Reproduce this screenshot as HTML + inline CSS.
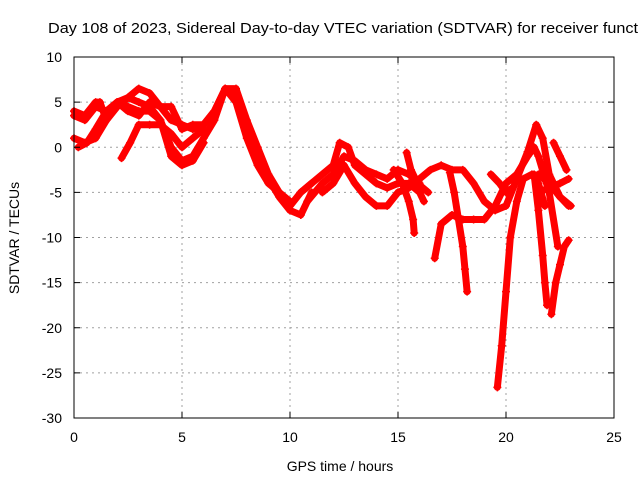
<!DOCTYPE html>
<html><head><meta charset="utf-8"><style>
body{margin:0;background:#fff;}
svg{display:block;font-family:"Liberation Sans",sans-serif;}
</style></head><body>
<svg id="chart" width="640" height="480" viewBox="0 0 640 480">
<rect width="640" height="480" fill="#fff"/>
<g id="grid"></g>
<g id="series"></g>
<rect x="74" y="57" width="540" height="361" fill="none" stroke="#000" stroke-width="1"/>
<g id="axes"></g>
<text x="48" y="33" font-size="15" textLength="590" lengthAdjust="spacingAndGlyphs">Day 108 of 2023, Sidereal Day-to-day VTEC variation (SDTVAR) for receiver funct</text>
<text x="340" y="471" font-size="14" text-anchor="middle">GPS time / hours</text>
<text transform="translate(19,238) rotate(-90)" font-size="14" text-anchor="middle">SDTVAR / TECUs</text>
</svg>
<script>
const xTicks=[0,5,10,15,20,25];
const yTicks=[-30,-25,-20,-15,-10,-5,0,5,10];
const track1=[[0,3.5],[0.5,3],[1,4.5],[1.5,4],[2,5],[2.5,5.5],[3,6.5],[3.5,6],[4,4.5],[4.5,3],[5,2.5],[5.5,2],[6,2.5],[6.5,4],[7,6.5],[7.5,6.5],[8,3],[8.5,0],[9,-3],[9.5,-5],[10,-6.5],[10.5,-5],[11,-4]];
const track2=[[0,1],[0.5,0.5],[1,1],[1.5,3],[2,5],[2.5,4.5],[3,4],[3.5,4],[4,3],[4.5,0],[5,-1.5],[5.5,-1],[6,1],[6.5,3],[7,6.5],[7.5,6],[8,2],[8.5,-1],[9,-3.5],[9.5,-5.5],[10,-7],[10.5,-7.5],[11,-5]];
const track3=[[0.2,0],[0.6,0.5],[1,2],[1.5,4],[2,5],[2.5,4],[3,3.5],[3.5,5],[4,4.5],[4.5,4.5],[5,2],[5.5,2.5],[6,2.5],[6.5,4],[7,6.5],[7.5,5],[8,1],[8.5,-2],[9,-4],[10,-6]];
const track4=[[2.2,-1.2],[2.6,0.5],[3,2.5],[3.5,2.5],[4,2.5],[4.5,1.5],[5,0],[5.5,1],[6,2]];
const track5=[[0,4],[0.5,3.5],[1,5],[1.2,5],[1.5,3],[2,4.5],[2.5,5.5],[3,5],[3.5,4.5],[4,3],[4.5,-1],[5,-2],[5.5,-1.5],[6,0.5]];
const track6=[[10.5,-5],[11,-4],[11.5,-3],[12,-2],[12.3,0.5],[12.7,0],[13,-2],[13.5,-3],[14,-4],[14.5,-4.5],[15,-4],[15.5,-4],[16,-5],[16.2,-6]];
const track7=[[10.8,-6],[11.5,-4],[12,-3],[12.5,-1],[13,-1.5],[13.5,-2.5],[14,-3],[14.5,-3.5],[15,-2.5],[15.5,-3],[16,-4]];
const track8=[[11.5,-5],[12,-4],[12.5,-2],[13,-4],[13.5,-5.5],[14,-6.5],[14.5,-6.5],[15,-5],[15.5,-4.5]];
const track9=[[14.8,-2.5],[15.2,-4],[15.5,-6],[15.7,-8],[15.75,-9.5]];
const track10=[[15.4,-0.6],[15.6,-2.5],[15.9,-4],[16.4,-5]];
const track11=[[15.5,-4],[16,-3.5],[16.5,-2.5],[17,-2],[17.5,-2.5],[18,-2.5],[18.5,-4],[19,-6],[19.5,-7],[20,-6.5],[20.5,-3.5],[21,-0.5],[21.4,2.5],[21.7,1],[22,-3],[22.5,-5.5],[23,-6.5]];
const track12=[[17.4,-2.8],[17.6,-5],[17.8,-8],[18,-11],[18.1,-13.5],[18.2,-16]];
const track13=[[16.7,-12.3],[17,-8.5],[17.5,-7.5],[18,-8],[18.5,-8],[19,-8],[19.5,-6.5],[20,-4],[20.5,-3],[21,-1],[21.3,0],[21.5,-1],[22,-5],[22.4,-11]];
const track14=[[21.3,-3],[21.5,-7],[21.7,-12],[21.8,-15],[21.9,-17.5]];
const track15=[[22.1,-18.5],[22.3,-15],[22.5,-13],[22.7,-11],[22.9,-10.3]];
const track16=[[19.6,-26.6],[19.8,-22],[20,-16],[20.2,-10],[20.5,-6],[20.8,-3.5],[21.2,-3],[21.5,-4],[21.8,-6.5]];
const track17=[[22.2,0.5],[22.5,-1],[22.8,-2.5]];
const track18=[[21.5,-5],[22,-4.5],[22.5,-4],[22.9,-3.5]];
const track19=[[21.5,-3],[22,-4],[22.5,-5.5],[22.9,-6.5]];
const track20=[[19.3,-3],[19.7,-4],[20,-5],[20.3,-4.5]];
const tracks=[track1,track2,track3,track4,track5,track6,track7,track8,track9,track10,track11,track12,track13,track14,track15,track16,track17,track18,track19,track20];

const X0=74,X1=614,Y0=418,Y1=57;
function xs(v){return X0+(v-0)/(25-0)*(X1-X0);}
function ys(v){return Y0-(v+30)/(40)*(Y0-Y1);}
const NS='http://www.w3.org/2000/svg';
const grid=document.getElementById('grid'),axes=document.getElementById('axes'),series=document.getElementById('series');
function mk(tag,attrs,parent){const e=document.createElementNS(NS,tag);for(const k in attrs)e.setAttribute(k,attrs[k]);parent.appendChild(e);return e;}
xTicks.forEach(t=>{
  const x=xs(t);
  if(t>0&&t<25){const g=mk('line',{x1:x,x2:x,y1:Y1,y2:Y0,stroke:'#a0a0a0','stroke-dasharray':'2,4'},grid);
  
  }
  mk('line',{x1:x,x2:x,y1:Y0,y2:Y0-6,stroke:'#000'},axes);
  mk('line',{x1:x,x2:x,y1:Y1,y2:Y1+6,stroke:'#000'},axes);
  const l=mk('text',{x:x,y:Y0+24,'font-size':14,'text-anchor':'middle'},axes);l.textContent=t;
  
  
});
yTicks.forEach(t=>{
  const y=ys(t);
  if(t>-30&&t<10){const g=mk('line',{x1:X0,x2:X1,y1:y,y2:y,stroke:'#a0a0a0','stroke-dasharray':'2,4'},grid);
  
  }
  mk('line',{x1:X0,x2:X0+6,y1:y,y2:y,stroke:'#000'},axes);
  mk('line',{x1:X1,x2:X1-6,y1:y,y2:y,stroke:'#000'},axes);
  const l=mk('text',{x:X0-12,y:y+5,'font-size':14,'text-anchor':'end'},axes);l.textContent=t;
  
  
});
tracks.forEach((tr,i)=>{
  const pl=mk('polyline',{points:tr.map(p=>xs(p[0])+','+ys(p[1])).join(' '),fill:'none',stroke:'#ff0000','stroke-width':7,'stroke-linejoin':'round','stroke-linecap':'round'},series);
  
  
  tr.forEach(p=>{
    const x=xs(p[0]),y=ys(p[1]);
    const m=mk('path',{d:`M${x-4},${y}H${x+4}M${x},${y-4}V${y+4}`,stroke:'#ff0000','stroke-width':1.5},series);
    
    
  });
});
</script>
</body></html>
